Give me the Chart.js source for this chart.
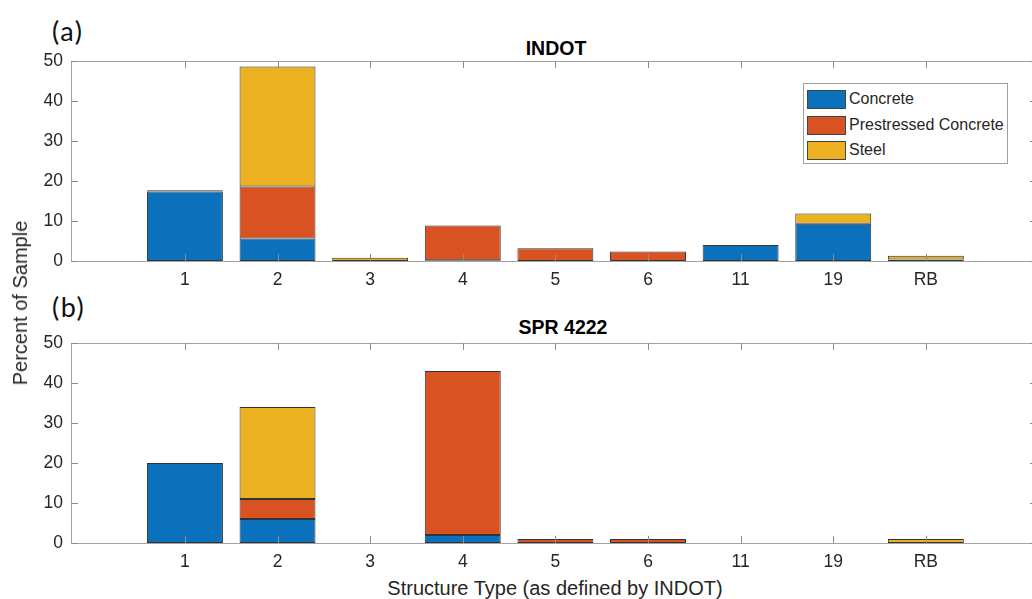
<!DOCTYPE html>
<html>
<head>
<meta charset="utf-8">
<script src="https://cdn.jsdelivr.net/npm/chart.js@4.4.1/dist/chart.umd.min.js"></script>
<style>
  html, body { margin: 0; padding: 0; background: #fff; width: 1032px; height: 599px; overflow: hidden; }
  .box { position: absolute; left: 0; width: 1050px; }
  .txt { position: absolute; font-family: "Liberation Sans", Arial, sans-serif; color: #262626; white-space: nowrap; font-size: 20px; line-height: 20px; }
  .panel { position: absolute; font-family: Lato, "Open Sans", sans-serif; font-size: 27px; letter-spacing: 1.5px; line-height: 28px; color: #111; }
  .ttl { position: absolute; font-family: "Liberation Sans", Arial, sans-serif; font-weight: bold; font-size: 19.5px; line-height: 20px; color: #000; transform: translateX(-50%); }
  #legend { position: absolute; left: 803px; top: 83px; width: 205px; height: 81px; border: 1px solid #a0a0a0; background: #fff; box-sizing: border-box; }
  #legend div { position: absolute; left: 3px; height: 20px; font-family: "Liberation Sans", Arial, sans-serif; font-size: 16px; color: #262626; line-height: 20px; }
  #legend span { display: inline-block; width: 39px; height: 19px; box-sizing: border-box; border: 1px solid #444; vertical-align: top; margin-top: 1px; margin-right: 3px; }
</style>
</head>
<body>
<div class="panel" style="left:52px; top:17px;">(a)</div>
<div class="panel" style="left:52px; top:293px;">(b)</div>
<div class="ttl" style="left:556px; top:38px;">INDOT</div>
<div class="ttl" style="left:563px; top:317px;">SPR 4222</div>
<div class="box" style="top:30px; height:260px;"><canvas id="chartA"></canvas></div>
<div class="box" style="top:310px; height:262px;"><canvas id="chartB"></canvas></div>
<div class="txt" style="left:20px; top:303px; transform: translate(-50%, -50%) rotate(-90deg);">Percent of Sample</div>
<div class="txt" style="left:555px; top:578px; transform: translateX(-50%);">Structure Type (as defined by INDOT)</div>
<div id="legend"></div>

<script>
// categorias (tipos de estrutura) e series
const categories = ['1', '2', '3', '4', '5', '6', '11', '19', 'RB'];
const seriesNames = ['Concrete', 'Prestressed Concrete', 'Steel'];
const seriesColors = ['#0b71bc', '#d95322', '#ecb120'];

// (a) INDOT
const indotConcrete    = [17.4, 5.6, 0,   0.2, 0,   0,   4.0, 9.3, 0.3];
const indotPrestressed = [0.3,  13.0, 0,  8.7, 3.2, 2.4, 0,   0,   0.1];
const indotSteel       = [0,    30.0, 0.8, 0,  0,   0,   0,   2.6, 0.9];

// (b) SPR 4222
const sprConcrete    = [20, 6, 0, 2,  0, 0, 0, 0, 0];
const sprPrestressed = [0,  5, 0, 41, 1, 1, 0, 0, 0];
const sprSteel       = [0, 23, 0, 0,  0, 0, 0, 0, 1];

const yTicks = [0, 10, 20, 30, 40, 50];
const positions = categories.map((c, i) => i + 1);

// caixa do eixo + marcas para dentro (estilo MATLAB)
const axesBox = {
  id: 'axesBox',
  afterDraw(chart) {
    const ctx = chart.ctx;
    const a = chart.chartArea;
    const xs = chart.scales.x, ys = chart.scales.y;
    ctx.save();
    ctx.strokeStyle = '#a3a3a3';
    ctx.lineWidth = 1;
    ctx.strokeRect(Math.round(a.left) + 0.5, Math.round(a.top) + 0.5, Math.round(a.right - a.left), Math.round(a.bottom - a.top));
    ctx.strokeStyle = '#8c8c8c';
    ctx.beginPath();
    const len = 7;
    xs.ticks.forEach(t => {
      const px = Math.round(xs.getPixelForValue(t.value)) + 0.5;
      ctx.moveTo(px, a.bottom); ctx.lineTo(px, a.bottom - len);
      ctx.moveTo(px, a.top); ctx.lineTo(px, a.top + len);
    });
    ys.ticks.forEach(t => {
      const py = Math.round(ys.getPixelForValue(t.value)) + 0.5;
      ctx.moveTo(a.left, py); ctx.lineTo(a.left + len, py);
      ctx.moveTo(a.right, py); ctx.lineTo(a.right - len, py);
    });
    ctx.stroke();
    ctx.restore();
  }
};

function makeChart(el, data, padTop, xHeight) {
  const ctx = document.getElementById(el).getContext('2d');
  return new Chart(ctx, {
    type: 'bar',
    data: {
      datasets: data.map((vals, k) => ({
        label: seriesNames[k],
        data: vals.map((v, i) => ({ x: positions[i], y: v })),
        backgroundColor: seriesColors[k],
        borderColor: '#333333',
        borderWidth: 1,
        borderSkipped: false,
        categoryPercentage: 1,
        barPercentage: 0.82
      }))
    },
    options: {
      responsive: true,
      maintainAspectRatio: false,
      animation: false,
      layout: { padding: { top: padTop, right: 13, bottom: 0, left: 0 } },
      plugins: { legend: { display: false }, tooltip: { enabled: false } },
      scales: {
        x: {
          type: 'linear',
          stacked: true,
          offset: false,
          min: -0.23,
          max: 10.2,
          grid: { display: false, drawTicks: false },
          border: { display: false },
          afterBuildTicks: s => { s.ticks = positions.map(v => ({ value: v })); },
          afterFit: s => { s.height = xHeight; },
          ticks: {
            padding: 9,
            maxRotation: 0,
            autoSkip: false,
            color: '#262626',
            font: { family: 'Liberation Sans', size: 17.5 },
            callback: v => categories[v - 1]
          }
        },
        y: {
          stacked: true,
          min: 0,
          max: 50,
          grid: { display: false, drawTicks: false },
          border: { display: false },
          afterBuildTicks: s => { s.ticks = yTicks.map(v => ({ value: v })); },
          afterFit: s => { s.width = 71; },
          ticks: {
            padding: 8,
            color: '#262626',
            font: { family: 'Liberation Sans', size: 17.5 }
          }
        }
      }
    },
    plugins: [axesBox]
  });
}

makeChart('chartA', [indotConcrete, indotPrestressed, indotSteel], 31, 29);
makeChart('chartB', [sprConcrete, sprPrestressed, sprSteel], 33, 29);

// legenda (so no painel a)
const leg = document.getElementById('legend');
seriesNames.forEach((n, k) => {
  const d = document.createElement('div');
  d.style.top = (5 + k * 25.5) + 'px';
  d.innerHTML = '<span style="background:' + seriesColors[k] + '"></span>' + n;
  leg.appendChild(d);
});
</script>
</body>
</html>
